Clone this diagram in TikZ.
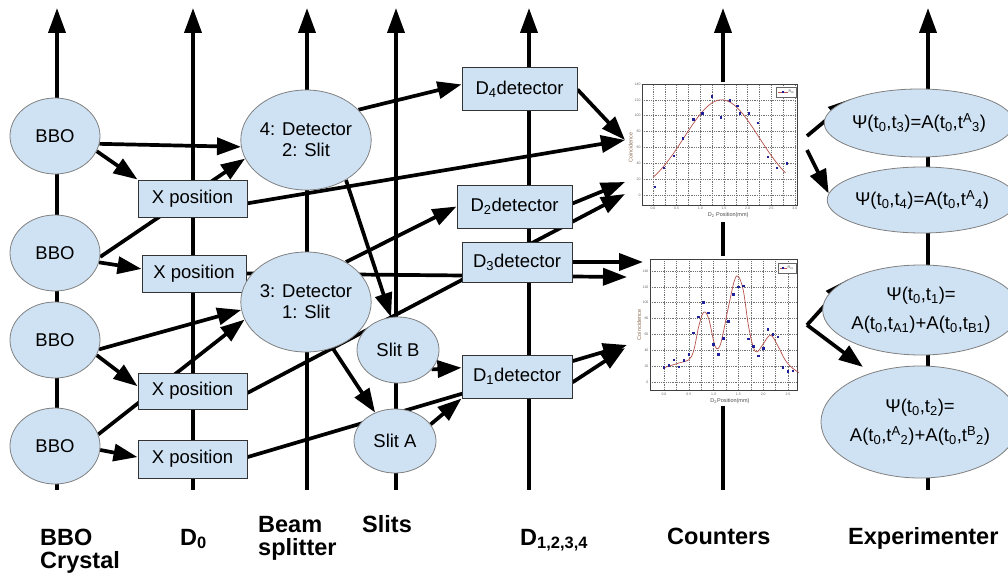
\documentclass[tikz,border=0pt]{standalone}
\usepackage{fontspec}
\setmainfont{Liberation Sans}
\usetikzlibrary{shapes.geometric,arrows.meta,calc}
\pgfdeclarelayer{bg}
\pgfsetlayers{bg,main}
\definecolor{nodefill}{HTML}{CFE2F3}
\definecolor{curvered}{HTML}{B5504A}
\definecolor{dotblue}{HTML}{1F1F9A}
\definecolor{axbrown}{HTML}{8A6A50}
\tikzset{
  oval/.style={ellipse, draw=black!50, line width=0.8pt, fill=nodefill, inner sep=0pt, align=center, font=\fontsize{18.5}{21}\selectfont},
  box/.style={rectangle, draw=black!80, line width=1pt, fill=nodefill, inner sep=0pt, align=center, font=\fontsize{18.5}{21}\selectfont},
  conn/.style={line width=3.7pt, -{Triangle[length=24pt,width=17pt]}},
  axisline/.style={line width=3.8pt, -{Triangle[length=25pt,width=17pt]}},
  title/.style={anchor=base west, inner sep=0pt, font=\fontsize{23.5}{25}\selectfont\bfseries},
  pgrid/.style={draw=black!55, line width=0.5pt, dash pattern=on 1pt off 0.8pt},
  pframe/.style={draw=black!75, line width=0.7pt},
  tick/.style={inner sep=0.5pt, text=black!60, font=\fontsize{3.5}{4}\selectfont},
  axlab/.style={inner sep=0pt, text=axbrown, font=\fontsize{5.5}{6}\selectfont},
  plotbg/.style={rectangle, fill=white, draw=none, inner sep=0pt, anchor=north west},
}
\begin{document}
\begin{tikzpicture}[x=1pt,y=-1pt]
\useasboundingbox (0,0) rectangle (1008,583);

% ---------- nodes ----------
\node[oval, minimum width=90pt, minimum height=76pt] (bbo1) at (55,136) {BBO};
\node[oval, minimum width=90pt, minimum height=76pt] (bbo2) at (55,253) {BBO};
\node[oval, minimum width=90pt, minimum height=76pt] (bbo3) at (55,340) {BBO};
\node[oval, minimum width=90pt, minimum height=76pt] (bbo4) at (55,446) {BBO};

\node[box, minimum width=109pt, minimum height=37pt] (x1) at (192.5,198.5) {X position};
\node[box, minimum width=104pt, minimum height=37pt] (x2) at (194,273.5) {X position};
\node[box, minimum width=109pt, minimum height=36pt] (x3) at (192.5,391) {X position};
\node[box, minimum width=109pt, minimum height=38pt] (x4) at (192.5,459) {X position};

\node[oval, minimum width=122pt, minimum height=100pt] (det4) at (306,140) {4: Detector\\2: Slit};
\node[oval, minimum width=122pt, minimum height=100pt] (det3) at (306,302) {3: Detector\\1: Slit};
\node[oval, minimum width=82pt, minimum height=66pt] (slitb) at (398,350) {Slit B};
\node[oval, minimum width=82pt, minimum height=64pt] (slita) at (395,441) {Slit A};

\node[box, minimum width=115pt, minimum height=43pt] (d4) at (519.5,89.5) {D\textsubscript{4}detector};
\node[box, minimum width=115pt, minimum height=43pt] (d2) at (514.5,206.5) {D\textsubscript{2}detector};
\node[box, minimum width=110pt, minimum height=40pt] (d3) at (517,262) {D\textsubscript{3}detector};
\node[box, minimum width=110pt, minimum height=43pt] (d1) at (517,376.5) {D\textsubscript{1}detector};

\node[oval, minimum width=148pt, minimum height=68pt] (e1) at (919,123)
  {Ψ(t\textsubscript{0},t\textsubscript{3})=A(t\textsubscript{0},t\textsuperscript{A}\textsubscript{3})};
\node[oval, minimum width=146pt, minimum height=66pt] (e2) at (922,200)
  {Ψ(t\textsubscript{0},t\textsubscript{4})=A(t\textsubscript{0},t\textsuperscript{A}\textsubscript{4})};
\node[oval, minimum width=152pt, minimum height=90pt, font=\fontsize{18.5}{29}\selectfont] (e3) at (921,310)
  {Ψ(t\textsubscript{0},t\textsubscript{1})=\\A(t\textsubscript{0},t\textsubscript{A1})+A(t\textsubscript{0},t\textsubscript{B1})};
\node[oval, minimum width=154pt, minimum height=112pt, font=\fontsize{18.5}{29}\selectfont] (e4) at (920,422)
  {Ψ(t\textsubscript{0},t\textsubscript{2})=\\A(t\textsubscript{0},t\textsuperscript{A}\textsubscript{2})+A(t\textsubscript{0},t\textsuperscript{B}\textsubscript{2})};

% ---------- plot 1 ----------
\node[plotbg, minimum width=162pt, minimum height=140pt] (plot1) at (638,82) {};
\begin{scope}[shift={(653,195)}, x=47.3pt, y=0.793pt]
  \foreach \k in {0,0.25,...,3.0} \draw[pgrid] (\k,-12.6) -- (\k,140);
  \foreach \k in {0,20,...,140} \draw[pgrid] (-0.233,\k) -- (3.046,\k);
  \draw[pframe] (-0.233,-12.6) rectangle (3.046,140);
  \foreach \k in {0,20,...,140} \node[tick, anchor=east] at (-0.25,\k) {\k};
  \foreach \k/\t in {0/0.0,0.5/0.5,1/1.0,1.5/1.5,2/2.0,2.5/2.5,3/3.0} \node[tick, anchor=north] at (\k,-14) {\t};
  \draw[curvered, line width=0.7pt, domain=0:2.8, samples=60, smooth] plot (\x, {120*exp(-((\x-1.45)^2)/1.25)});
  \foreach \a/\b in {0.04/10,0.23/34,0.44/49,0.63/71,0.85/95,1.04/103,1.25/124,1.44/98,1.63/119,1.78/112,1.84/103,2.03/103,2.22/91,2.43/48,2.62/34,2.83/40}
    \fill[dotblue] (\a,\b) ++(-1.3pt,-1.3pt) rectangle ++(2.6pt,2.6pt);
  \node[axlab, rotate=90] at (-0.47,60) {Coincidence};
  \node[axlab, text=black!70] at (1.59,-25) {D\textsubscript{2} Position(mm)};
  \draw[fill=white, draw=black!60, line width=0.4pt] (2.6,123.6) rectangle (3.02,136);
  \draw[curvered, line width=0.6pt] (2.65,129.8) -- (2.85,129.8);
  \fill[dotblue] (2.75,129.8) ++(-1pt,-1pt) rectangle ++(2pt,2pt);
  \node[tick, anchor=west, text=black!80] at (2.85,129.8) {R\textsubscript{01}};
\end{scope}

% ---------- plot 2 ----------
\node[plotbg, minimum width=154pt, minimum height=150pt] (plot2) at (646,256) {};
\begin{scope}[shift={(664,382)}, x=49.6pt, y=0.793pt]
  \foreach \k in {0,0.25,...,2.5} \draw[pgrid] (\k,-10.1) -- (\k,155);
  \foreach \k in {0,20,...,140} \draw[pgrid] (-0.282,\k) -- (2.68,\k);
  \draw[pframe] (-0.282,-10.1) rectangle (2.68,155);
  \foreach \k in {0,20,...,140} \node[tick, anchor=east] at (-0.3,\k) {\k};
  \foreach \k/\t in {0/0.0,0.5/0.5,1/1.0,1.5/1.5,2/2.0,2.5/2.5} \node[tick, anchor=north] at (\k,-13) {\t};
  \draw[curvered, line width=0.7pt] plot[smooth, tension=0.6] coordinates {
    (0,18) (0.3,24) (0.5,28) (0.6,40) (0.7,70) (0.8,88) (0.9,80) (1.0,52) (1.06,42) (1.15,50)
    (1.3,95) (1.42,128) (1.5,133) (1.6,115) (1.7,72) (1.8,44) (1.88,38) (2.0,48) (2.15,59)
    (2.3,45) (2.45,27) (2.6,17) (2.72,12)};
  \foreach \a/\b in {0/18,0.1/21,0.2/28,0.3/19,0.4/27,0.5/35,0.6/62,0.7/82,0.8/100,0.9/87,1.0/47,1.1/35,1.2/55,1.3/76,1.4/110,1.5/120,1.6/121,1.7/54,1.8/45,1.9/33,2.0/42,2.1/66,2.2/60,2.3/57,2.4/18,2.5/13,2.6/14}
    \fill[dotblue] (\a,\b) ++(-1.3pt,-1.3pt) rectangle ++(2.6pt,2.6pt);
  \node[axlab, rotate=90] at (-0.5,72) {Coincidence};
  \node[axlab, text=black!70] at (1.33,-24) {D\textsubscript{2}Position(mm)};
  \draw[fill=white, draw=black!60, line width=0.4pt] (2.3,137) rectangle (2.66,150);
  \draw[curvered, line width=0.6pt] (2.33,143.5) -- (2.48,143.5);
  \fill[dotblue] (2.405,143.5) ++(-1pt,-1pt) rectangle ++(2pt,2pt);
  \node[tick, anchor=west, text=black!80] at (2.48,143.5) {R\textsubscript{01}};
\end{scope}

% ---------- coordinates ----------
\coordinate (p1a) at (625,140);
\coordinate (p1b) at (625,194);
\coordinate (p1c) at (625,182);
\coordinate (p1o1) at (807,136);
\coordinate (p1o2) at (807,150);
\coordinate (p2a) at (643,262);
\coordinate (p2b) at (627,277);
\coordinate (p2c) at (627,345);
\coordinate (p2d) at (625,348);
\coordinate (p2o) at (807,325);
\foreach \i/\xx in {1/57,2/193,3/307,4/396,5/529,6/723,7/928} {
  \coordinate (bot\i) at (\xx,490);
  \coordinate (top\i) at (\xx,8);
}

% ---------- connectors ----------
\begin{pgfonlayer}{bg}
  \foreach \i in {1,...,7} \draw[axisline] (bot\i) -- (top\i);
  \draw[conn] (bbo1.-10) -- (det4.186);
  \draw[conn] (bbo1.-20) -- (x1.north west);
  \draw[conn] (bbo2.-5) -- (det4.197);
  \draw[conn] (bbo2.-12) -- (x2.175);
  \draw[conn] (bbo3.-12) -- (det3.187);
  \draw[conn] (bbo3.-20) -- (x3.175);
  \draw[conn] (bbo4.15) -- (det3.196);
  \draw[conn] (bbo4.-5) -- (x4.178);
  \draw[conn] (x1.-5) -- (p1a);
  \draw[conn] (d4.east) -- (p1a);
  \draw[conn] (det4.30) -- (d4.175);
  \draw[conn] (det4.-45) -- (slitb.102);
  \draw[conn] (det3.45) -- (d2.west);
  \draw[conn] (x2.east) -- (p2b);
  \draw[conn] (d3.east) -- (p2a);
  \draw[conn] (x3.-2) -- (p1b);
  \draw[conn] (x4.2) -- (p2c);
  \draw[conn] (d1.-6) -- (p2d);
  \draw[conn] (d2.3) -- (p1c);
  \draw[conn] (det3.-60) -- (slita.125);
  \draw[conn] (slitb.-30) -- (d1.171);
  \draw[conn] (slita.25) -- (d1.south west);
  \draw[conn] (p1o1) -- (e1.160);
  \draw[conn] (p1o2) -- (e2.176);
  \draw[conn] (p2o) -- (e3.157);
  \draw[conn, shorten >=10pt] (p2o) -- (e4.135);
\end{pgfonlayer}

% ---------- bottom labels ----------
\node[title] (tbbo) at (40,545) {BBO};
\node[title] (tcry) at (40,568) {Crystal};
\node[title] (td0) at (180,545) {D\textsubscript{0}};
\node[title] (tbeam) at (258,532) {Beam};
\node[title] (tspl) at (258,555) {splitter};
\node[title] (tslits) at (362,532) {Slits};
\node[title] (td) at (520,545) {D\textsubscript{1,2,3,4}};
\node[title] (tcnt) at (667,544) {Counters};
\node[title] (texp) at (848,544) {Experimenter};
\end{tikzpicture}
\end{document}
